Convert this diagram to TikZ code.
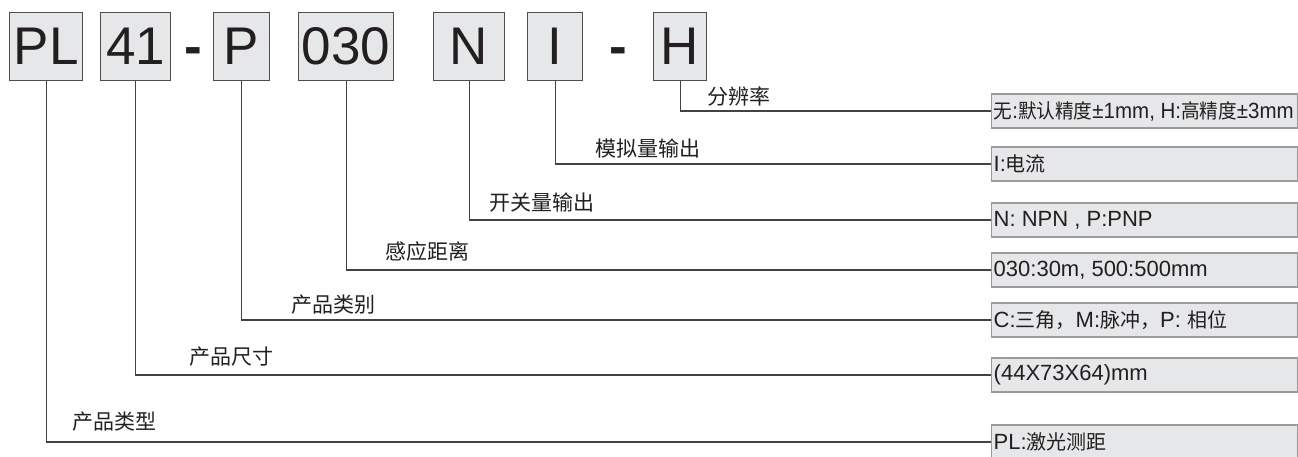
\documentclass[tikz,border=0pt]{standalone}
\usepackage{fontspec}
\setmainfont{Liberation Sans}
\newfontfamily\cjk{Noto Sans CJK SC}
\usetikzlibrary{positioning}
\definecolor{boxgray}{HTML}{E6E7E8}
\definecolor{edgegray}{HTML}{4D4D4D}
\definecolor{infoedge}{HTML}{9B9B9B}
\definecolor{inkgray}{HTML}{231F20}
\newcommand{\zh}[1]{{\fontsize{20}{20}\selectfont\cjk #1}}

\begin{document}
\begin{tikzpicture}[x=1pt, y=-1pt,
  code/.style={draw=edgegray, fill=boxgray, line width=1.2pt, minimum height=68pt,
    inner sep=0pt, anchor=north west, text=inkgray, font=\fontsize{53}{53}\selectfont},
  dashmark/.style={anchor=base, inner sep=0pt, text=inkgray, font=\fontsize{53}{53}\selectfont\bfseries},
  info/.style={draw=infoedge, fill=boxgray, line width=1.4pt, minimum height=34pt,
    minimum width=306pt, inner xsep=2pt, inner ysep=0pt, anchor=west,
    text=inkgray, font=\fontsize{22}{22}\selectfont},
  tag/.style={anchor=west, inner sep=0pt, text=inkgray, font=\fontsize{21}{21}\selectfont\cjk},
  conn/.style={draw=inkgray!85, line width=1.1pt}]
\useasboundingbox (0,0) rectangle (1298,456);

\node[code, minimum width=73pt] (pl) at (9,12) {PL};
\node[code, minimum width=70pt] (size) at (100,12) {41};
\node[dashmark] (dash1) at (193.5,64) {-};
\node[code, minimum width=56pt] (kind) at (213,12) {P};
\node[code, minimum width=95pt] (dist) at (298,12) {030};
\node[code, minimum width=71pt] (sw) at (433,12) {N};
\node[code, minimum width=55pt] (ana) at (527,12) {I};
\node[dashmark] (dash2) at (618,64) {-};
\node[code, minimum width=53pt] (res) at (653,12) {H};

\node[info] (resinfo) at (991,111) {\makebox[302pt][l]{\resizebox{300pt}{\height}{\zh{无}:\zh{默认精度}±1mm, H:\zh{高精度}±3mm}}};
\node[info] (anainfo) at (991,164) {\makebox[302pt][l]{I:\zh{电流}}};
\node[info] (swinfo) at (991,220) {\makebox[302pt][l]{N: NPN , P:PNP}};
\node[info] (distinfo) at (991,270) {\makebox[302pt][l]{030:30m, 500:500mm}};
\node[info] (kindinfo) at (991,320) {\makebox[302pt][l]{C:\zh{三角，}M:\zh{脉冲，}P: \zh{相位}}};
\node[info] (sizeinfo) at (991,375) {\makebox[302pt][l]{(44X73X64)mm}};
\node[info] (plinfo) at (991,442) {\makebox[302pt][l]{PL:\zh{激光测距}}};

\node[tag] (restag) at (707,96) {分辨率};
\node[tag] (anatag) at (595,148) {模拟量输出};
\node[tag] (swtag) at (489,203) {开关量输出};
\node[tag] (disttag) at (385,252) {感应距离};
\node[tag] (kindtag) at (291,305) {产品类别};
\node[tag] (sizetag) at (189,357) {产品尺寸};
\node[tag] (pltag) at (72,422) {产品类型};

\draw[conn] (res.south) |- (resinfo.west);
\draw[conn] (ana.south) |- (anainfo.west);
\draw[conn] (sw.south) |- (swinfo.west);
\draw[conn] (dist.south) |- (distinfo.west);
\draw[conn] (kind.south) |- (kindinfo.west);
\draw[conn] (size.south) |- (sizeinfo.west);
\draw[conn] (pl.south) |- (plinfo.west);
\end{tikzpicture}
\end{document}
